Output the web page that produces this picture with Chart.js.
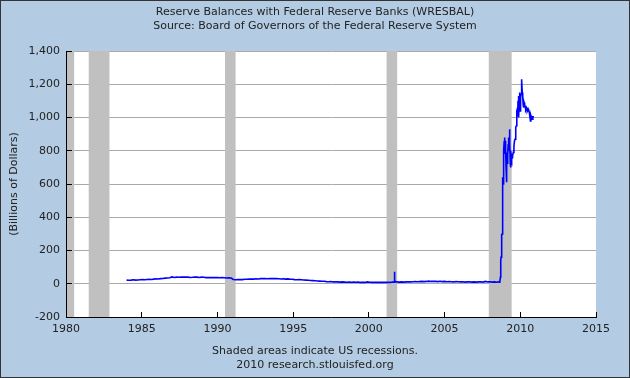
<!DOCTYPE html>
<html>
<head>
<meta charset="utf-8">
<script src="https://cdn.jsdelivr.net/npm/chart.js@4/dist/chart.umd.min.js"></script>
<style>
  body { margin: 0; }
  #wrap {
    width: 630px;
    height: 378px;
    box-sizing: border-box;
    border: 1px solid #333;
    background: #b3cce3;
  }
  canvas { display: block; }
</style>
</head>
<body>
<div id="wrap"><canvas id="reserves" width="628" height="376"></canvas></div>
<script>
const titleLines = ['Reserve Balances with Federal Reserve Banks (WRESBAL)', 'Source: Board of Governors of the Federal Reserve System'];
const footerLines = ['Shaded areas indicate US recessions.', '2010 research.stlouisfed.org'];
const yAxisLabel = '(Billions of Dollars)';

// recessions, decimal years
const recessionStart = [1980.0, 1981.5, 1990.5, 2001.17, 2007.92];
const recessionEnd = [1980.54, 1982.87, 1991.2, 2001.87, 2009.43];

// weekly-ish readings, billions of dollars
const weeks = [
  1984.00, 1984.15, 1984.30, 1984.45, 1984.60, 1984.75, 1984.90,
  1985.05, 1985.20, 1985.35, 1985.50, 1985.65, 1985.80, 1985.95,
  1986.10, 1986.25, 1986.40, 1986.55, 1986.70, 1986.85, 1987.00,
  1987.15, 1987.30, 1987.45, 1987.60, 1987.75, 1987.90,
  1988.05, 1988.20, 1988.35, 1988.50, 1988.65, 1988.80, 1988.95,
  1989.10, 1989.25, 1989.40, 1989.55, 1989.70, 1989.85,
  1990.00, 1990.15, 1990.30, 1990.45, 1990.60, 1990.75, 1990.90, 1990.98, 1991.05,
  1991.20, 1991.35, 1991.50, 1991.65, 1991.80, 1991.95,
  1992.10, 1992.25, 1992.40, 1992.55, 1992.70, 1992.85,
  1993.00, 1993.15, 1993.30, 1993.45, 1993.60, 1993.75, 1993.90,
  1994.05, 1994.20, 1994.35, 1994.50, 1994.65, 1994.80, 1994.95,
  1995.10, 1995.25, 1995.40, 1995.55, 1995.70, 1995.85,
  1996.00, 1996.15, 1996.30, 1996.45, 1996.60, 1996.75, 1996.90,
  1997.05, 1997.20, 1997.35, 1997.50, 1997.65, 1997.80, 1997.95,
  1998.10, 1998.25, 1998.40, 1998.55, 1998.70, 1998.85,
  1999.00, 1999.15, 1999.30, 1999.45, 1999.60, 1999.75, 1999.90,
  2000.05, 2000.20, 2000.35, 2000.50, 2000.65, 2000.80, 2000.95,
  2001.10, 2001.25, 2001.40, 2001.55, 2001.68, 2001.69, 2001.71, 2001.73,
  2001.85, 2002.00, 2002.15, 2002.30, 2002.45, 2002.60, 2002.75, 2002.90,
  2003.05, 2003.20, 2003.35, 2003.50, 2003.65, 2003.80, 2003.95,
  2004.10, 2004.25, 2004.40, 2004.55, 2004.70, 2004.85,
  2005.00, 2005.15, 2005.30, 2005.45, 2005.60, 2005.75, 2005.90,
  2006.05, 2006.20, 2006.35, 2006.50, 2006.65, 2006.80, 2006.95,
  2007.10, 2007.25, 2007.40, 2007.55, 2007.70, 2007.85,
  2008.00, 2008.15, 2008.30, 2008.45, 2008.55, 2008.60, 2008.65,
  2008.69, 2008.71, 2008.73, 2008.75, 2008.77, 2008.79, 2008.81, 2008.83, 2008.84, 2008.86,
  2008.88, 2008.90, 2008.92, 2008.94, 2008.96, 2008.98, 2009.00, 2009.02, 2009.04, 2009.06,
  2009.08, 2009.10, 2009.12, 2009.14, 2009.16, 2009.18, 2009.20, 2009.22, 2009.24, 2009.26,
  2009.28, 2009.30, 2009.32, 2009.34, 2009.36, 2009.38, 2009.40, 2009.42, 2009.44, 2009.46,
  2009.48, 2009.50, 2009.54, 2009.58, 2009.62, 2009.66, 2009.70, 2009.74, 2009.77, 2009.80,
  2009.83, 2009.85, 2009.87, 2009.89, 2009.91, 2009.93, 2009.95, 2009.97, 2009.99, 2010.01,
  2010.03, 2010.05, 2010.07, 2010.09, 2010.11, 2010.13, 2010.15, 2010.17, 2010.19, 2010.21,
  2010.23, 2010.25, 2010.27, 2010.30, 2010.33, 2010.36, 2010.40, 2010.44, 2010.48, 2010.52,
  2010.56, 2010.60, 2010.64, 2010.67, 2010.70, 2010.73, 2010.77, 2010.80, 2010.83, 2010.86
];
const reserves = [
  22, 21, 22, 24, 22, 23, 24,
  25, 24, 26, 27, 26, 28, 30,
  29, 31, 32, 34, 35, 36, 41,
  38, 40, 39, 41, 40, 41,
  40, 38, 39, 41, 40, 38, 40,
  39, 37, 38, 37, 38, 37,
  38, 36, 37, 36, 35, 36, 34, 30, 25,
  24, 25, 26, 25, 27, 27,
  28, 29, 28, 30, 29, 31,
  32, 31, 30, 32, 31, 32, 31,
  30, 29, 30, 28, 29, 27, 27,
  25, 24, 25, 24, 23, 22,
  21, 20, 19, 18, 17, 16, 15,
  15, 13, 12, 13, 11, 12, 11,
  10, 11, 10, 9, 10, 9,
  10, 9, 10, 8, 9, 8, 11,
  9, 8, 9, 8, 9, 8, 9,
  8, 9, 8, 10, 10, 72, 25, 12,
  11, 10, 11, 10, 11, 12, 11, 12,
  13, 12, 13, 14, 13, 14, 16,
  14, 15, 14, 13, 15, 13,
  14, 12, 13, 12, 11, 13, 12,
  11, 12, 10, 11, 12, 10, 11,
  10, 11, 12, 10, 14, 11,
  12, 10, 11, 9, 12, 10, 12,
  40, 140, 160, 265, 300, 290, 300, 580, 640, 600,
  790, 760, 800, 860, 880, 780, 860, 790, 820, 700,
  610, 640, 700, 790, 720, 780, 840, 800, 880, 840,
  930, 880, 850, 720, 800, 700, 750, 740, 770, 760,
  780, 770, 790, 830, 860, 870, 940, 950, 1040, 1050,
  1010, 1100, 1130, 1080, 1000, 1100, 1150, 1110, 1040, 1080,
  1130, 1140, 1180, 1230, 1220, 1150, 1120, 1130, 1080, 1060,
  1100, 1090, 1070, 1080, 1060, 1050, 1060, 1050, 1040, 1050,
  1040, 1030, 1000, 980, 1010, 1000, 1010, 990, 1000, 1010
];

const yearTicks = [1980, 1985, 1990, 1995, 2000, 2005, 2010, 2015];

Chart.defaults.font.family = '"DejaVu Sans", Verdana, sans-serif';
Chart.defaults.font.size = 11;
Chart.defaults.color = '#222';

const plotBackground = {
  id: 'plotBackground',
  beforeDraw(chart) {
    const { ctx, chartArea: a } = chart;
    ctx.save();
    ctx.fillStyle = '#ffffff';
    ctx.fillRect(a.left, a.top, a.right - a.left, a.bottom - a.top);
    ctx.restore();
  }
};

const recessionBars = {
  id: 'recessionBars',
  beforeDatasetsDraw(chart) {
    const { ctx, chartArea: a, scales: { x } } = chart;
    ctx.save();
    ctx.beginPath();
    ctx.rect(a.left, a.top, a.right - a.left, a.bottom - a.top);
    ctx.clip();
    ctx.fillStyle = '#c0c0c0';
    recessionStart.forEach((s, i) => {
      const x0 = x.getPixelForValue(s);
      const x1 = x.getPixelForValue(recessionEnd[i]);
      ctx.fillRect(x0, a.top, x1 - x0, a.bottom - a.top);
    });
    ctx.restore();
  }
};

// FRED draws short tick marks pointing into the plot
const innerTicks = {
  id: 'innerTicks',
  afterDraw(chart) {
    const { ctx, chartArea: a, scales: { x, y } } = chart;
    ctx.save();
    ctx.strokeStyle = '#000';
    ctx.lineWidth = 1;
    ctx.beginPath();
    x.ticks.forEach(t => {
      const px = Math.round(x.getPixelForValue(t.value) - 0.5) + 0.5;
      ctx.moveTo(px, a.bottom);
      ctx.lineTo(px, a.bottom - 5);
    });
    y.ticks.forEach(t => {
      const py = Math.round(y.getPixelForValue(t.value) - 0.5) + 0.5;
      ctx.moveTo(a.left, py);
      ctx.lineTo(a.left + 6, py);
    });
    ctx.stroke();
    ctx.restore();
  }
};

const textFont = { size: 11, weight: 'normal', lineHeight: '14px' };

new Chart(document.getElementById('reserves'), {
  type: 'line',
  data: {
    datasets: [{
      data: weeks.map((w, i) => ({ x: w, y: reserves[i] })),
      borderColor: '#0000ff',
      borderWidth: 1.6,
      pointRadius: 0,
      tension: 0,
      fill: false
    }]
  },
  options: {
    responsive: false,
    animation: false,
    devicePixelRatio: 1,
    locale: 'en-US',
    layout: { padding: 0 },
    plugins: {
      legend: { display: false },
      tooltip: { enabled: false },
      title: {
        display: true,
        text: titleLines,
        color: '#222',
        font: textFont,
        padding: { top: 4, bottom: 18 }
      },
      subtitle: {
        display: true,
        position: 'bottom',
        text: footerLines,
        color: '#222',
        font: textFont,
        padding: { top: 7, bottom: 5 }
      }
    },
    scales: {
      x: {
        type: 'linear',
        min: 1980,
        max: 2015,
        afterBuildTicks(scale) {
          scale.ticks = yearTicks.map(v => ({ value: v }));
        },
        ticks: {
          color: '#222',
          padding: 6,
          maxRotation: 0,
          callback: v => String(v)
        },
        grid: { display: false, drawTicks: false },
        border: { display: true, color: '#000', width: 1, z: 1 },
        afterFit(scale) { scale.height = 20; }
      },
      y: {
        min: -200,
        max: 1400,
        ticks: { stepSize: 200, color: '#222', padding: 6 },
        grid: { color: '#aaaaaa', lineWidth: 1, drawTicks: false },
        border: { display: true, color: '#000', width: 1, z: 1 },
        title: {
          display: true,
          text: yAxisLabel,
          color: '#222',
          font: { size: 11 },
          padding: { top: 7, bottom: 0 }
        },
        afterFit(scale) { scale.width = 65; }
      },
      yRight: {
        position: 'right',
        display: true,
        grid: { display: false, drawTicks: false },
        ticks: { display: false },
        border: { display: false },
        afterFit(scale) { scale.width = 33; }
      }
    }
  },
  plugins: [plotBackground, recessionBars, innerTicks]
});
</script>
</body>
</html>
